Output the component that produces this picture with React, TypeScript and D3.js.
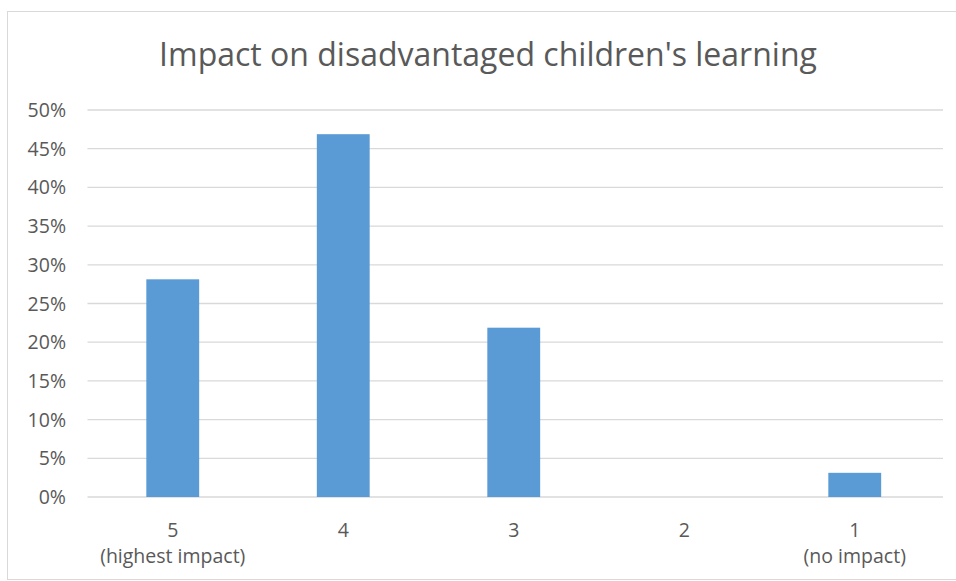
import React from "react";
import * as d3 from "d3";

// Survey results: share of respondents for each impact rating
const categories = ["5", "4", "3", "2", "1"];
const subLabels = ["(highest impact)", "", "", "", "(no impact)"];
const shares = [0.28125, 0.46875, 0.21875, 0, 0.03125];
const yTicks = [0, 0.05, 0.1, 0.15, 0.2, 0.25, 0.3, 0.35, 0.4, 0.45, 0.5];
const title = "Impact on disadvantaged children's learning";

const W = 956;
const H = 581;
const plot = { left: 87.5, right: 940, top: 110, bottom: 497 };
const font = "'Open Sans', 'Noto Sans', sans-serif";
const textColor = "#595959";

export default function App() {
  const x = d3
    .scaleBand<string>()
    .domain(categories)
    .range([plot.left, plot.right])
    .paddingInner(0.69)
    .paddingOuter(0.345);
  const y = d3.scaleLinear().domain([0, 0.5]).range([plot.bottom, plot.top]);
  const fmt = d3.format(".0%");

  return (
    <svg
      width={W}
      height={H}
      style={{ position: "absolute", left: 0, top: 0, background: "#fff" }}
    >
      <rect x={7.5} y={11.5} width={W} height={568} fill="#fff" stroke="#d9d9d9" />
      <text
        x={488}
        y={66}
        textAnchor="middle"
        fontFamily={font}
        fontSize={32}
        fill={textColor}
      >
        {title}
      </text>
      {yTicks.map((t) => (
        <g key={t}>
          <line
            x1={plot.left}
            x2={plot.right + 3}
            y1={y(t)}
            y2={y(t)}
            stroke="#d9d9d9"
            strokeWidth={1.3}
          />
          <text
            x={66}
            y={y(t) + 7}
            textAnchor="end"
            fontFamily={font}
            fontSize={19.5}
            fill={textColor}
          >
            {fmt(t)}
          </text>
        </g>
      ))}
      {categories.map((c, i) => (
        <rect
          key={c}
          x={x(c)}
          y={y(shares[i])}
          width={x.bandwidth()}
          height={y(0) - y(shares[i])}
          fill="#5b9bd5"
        />
      ))}
      {categories.map((c, i) => {
        const cx = (x(c) as number) + x.bandwidth() / 2;
        return (
          <g key={c} fontFamily={font} fontSize={19.5} fill={textColor} textAnchor="middle">
            <text x={cx} y={537}>{c}</text>
            {subLabels[i] && <text x={cx} y={563}>{subLabels[i]}</text>}
          </g>
        );
      })}
    </svg>
  );
}
